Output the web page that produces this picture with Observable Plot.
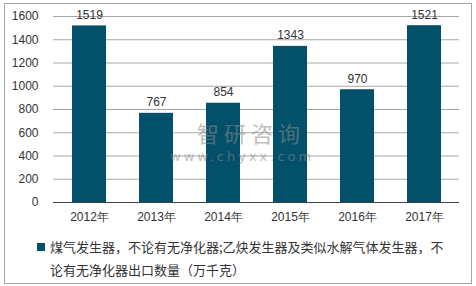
<!DOCTYPE html>
<html><head><meta charset="utf-8">
<script src="https://cdn.jsdelivr.net/npm/d3@7"></script>
<script src="https://cdn.jsdelivr.net/npm/@observablehq/plot@0.6"></script>
<style>
body{margin:0;background:#fff;}
#wrap{position:relative;width:476px;height:286px;overflow:hidden;font-family:"Liberation Sans",Arial,sans-serif;}
#frame{position:absolute;left:4px;top:3px;width:466px;height:279px;border:1px solid #a6a6a6;}
#chart{position:absolute;left:0;top:0;}
#legend{position:absolute;left:37px;top:235px;font-family:"Noto Sans CJK SC",sans-serif;font-size:13px;line-height:23px;color:#333;}
#legend .sw{position:absolute;left:0;top:8px;width:8px;height:8px;background:#03506b;}
#legend .tx{margin-left:13px;white-space:nowrap;}
#wm{position:absolute;left:170px;top:121px;color:#8a8a8a;opacity:0.55;pointer-events:none;}
#wm .a{font-family:'Noto Sans CJK SC',sans-serif;font-size:22px;letter-spacing:5px;margin-left:27px;line-height:22px;height:22px;}
#wm .b{font-family:'DejaVu Sans',sans-serif;font-size:13px;letter-spacing:3px;line-height:14px;margin-top:7px;}
</style></head>
<body>
<div id="wrap">
<div id="frame"></div>
<div id="chart"></div>
<div id="legend"><div class="sw"></div><div class="tx">煤气发生器，不论有无净化器;乙炔发生器及类似水解气体发生器，不<br>论有无净化器出口数量（万千克）</div></div>
<div id="wm"><div class="a">智研咨询</div><div class="b">www.chyxx.com</div></div>
</div>
<script>
const years = ["2012年","2013年","2014年","2015年","2016年","2017年"];
const values = [1519, 767, 854, 1343, 970, 1521];
const yTicks = [0,200,400,600,800,1000,1200,1400,1600];
const data = years.map((y,i)=>({year:y, value:values[i]}));
const chart = Plot.plot({
  width: 476, height: 230,
  marginTop: 16, marginBottom: 28, marginLeft: 53, marginRight: 17,
  style: {fontFamily: "'Liberation Sans', Arial, sans-serif", fontSize: "12px", color: "#333", background: "transparent"},
  x: {domain: years, paddingInner: 0.5, paddingOuter: 0.25, label: null},
  y: {domain: [0,1600], ticks: yTicks, label: null},
  marks: [
    Plot.gridY(yTicks.filter(d=>d>0), {stroke: "#a6a6a6", strokeOpacity: 1}),
    Plot.barY(data, {x: "year", y: "value", fill: "#03506b"}),
    Plot.ruleY([0], {stroke: "#404040"}),
    Plot.text(data, {x: "year", y: "value", text: d=>String(d.value), dy: -11, fill: "#333", fontSize: 12}),
    Plot.axisY({ticks: yTicks, tickFormat: d=>String(d), tickSize: 0, tickPadding: 15, fontSize: 12}),
    Plot.axisX({tickSize: 0, tickPadding: 10, fontSize: 12})
  ]
});
document.getElementById("chart").appendChild(chart);
</script>
</body></html>
